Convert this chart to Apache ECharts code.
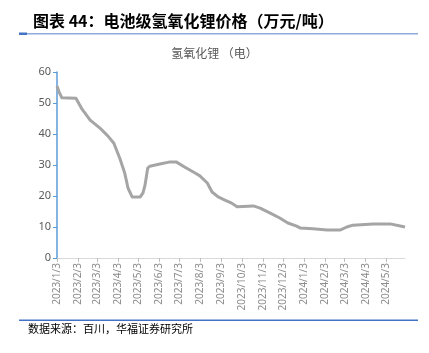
<!DOCTYPE html>
<html>
<head>
<meta charset="utf-8">
<script src="https://cdn.jsdelivr.net/npm/echarts@6/dist/echarts.min.js"></script>
<style>
  html, body { margin: 0; padding: 0; background: #fff; }
  #main { width: 429px; height: 353px; }
</style>
</head>
<body>
<div id="main"></div>
<script>
// 日期与价格（万元/吨）
const dates = [
  '2023-01-03', '2023-01-06', '2023-01-10', '2023-01-31', '2023-02-09', '2023-02-21',
  '2023-03-07', '2023-03-19', '2023-03-28', '2023-04-06', '2023-04-13', '2023-04-18',
  '2023-04-24', '2023-05-06', '2023-05-10', '2023-05-13', '2023-05-17', '2023-05-20', '2023-06-04',
  '2023-06-19', '2023-06-28', '2023-07-11', '2023-07-26', '2023-08-02', '2023-08-13',
  '2023-08-20', '2023-08-29', '2023-09-08', '2023-09-18', '2023-09-26', '2023-10-20',
  '2023-10-30', '2023-11-14', '2023-11-28', '2023-12-10', '2023-12-23', '2023-12-28',
  '2024-01-16', '2024-02-06', '2024-02-25', '2024-03-06', '2024-03-15', '2024-04-14',
  '2024-05-09', '2024-05-24', '2024-05-31'
];
const prices = [
  55.5, 53.6, 51.7, 51.5, 48, 44.5,
  42, 39.4, 37, 32, 27.4, 22.5,
  19.7, 19.7, 21, 23.5, 29, 29.6, 30.3,
  31, 31, 29.3, 27.4, 26.5, 24.2,
  21.3, 19.7, 18.7, 17.7, 16.5, 16.8,
  16.1, 14.5, 12.9, 11.3, 10.3, 9.7,
  9.4, 9.0, 9.0, 10, 10.6, 11,
  11, 10.3, 10
];
// 横轴刻度（每月3日）
const tickDates = [
  '2023/1/3', '2023/2/3', '2023/3/3', '2023/4/3', '2023/5/3', '2023/6/3',
  '2023/7/3', '2023/8/3', '2023/9/3', '2023/10/3', '2023/11/3', '2023/12/3',
  '2024/1/3', '2024/2/3', '2024/3/3', '2024/4/3', '2024/5/3'
];

// 以 2023/1/3 为起点的天数
const DAY = 24 * 3600 * 1000;
function toDay(s) {
  const p = s.split(/[-\/]/).map(Number);
  return Math.round((Date.UTC(p[0], p[1] - 1, p[2]) - Date.UTC(2023, 0, 3)) / DAY);
}
const tickValues = tickDates.map(toDay);
const seriesData = dates.map((d, i) => [toDay(d), prices[i]]);

const chart = echarts.init(document.getElementById('main'), null, { renderer: 'canvas' });

chart.setOption({
  animation: false,
  title: [
    {
      text: '图表 44：电池级氢氧化锂价格（万元/吨）',
      left: 28, top: 8,
      textStyle: { fontSize: 16, fontWeight: 'bold', color: '#000', fontFamily: 'Noto Sans CJK SC' }
    },
    {
      text: '氢氧化锂 （电）',
      left: 'center', top: 42,
      textStyle: { fontSize: 12, fontWeight: 'normal', color: '#595959', fontFamily: 'Noto Sans CJK SC' }
    }
  ],
  graphic: [
    { type: 'rect', shape: { x: 19, y: 33, width: 399, height: 1.5 }, style: { fill: '#8faadc' } },
    { type: 'rect', shape: { x: 19, y: 32.5, width: 8, height: 2.5 }, style: { fill: '#4472c4' } },
    { type: 'rect', shape: { x: 19, y: 319.5, width: 399, height: 1.5 }, style: { fill: '#4472c4' } },
    {
      type: 'text', left: 28, top: 323,
      style: { text: '数据来源：百川，华福证券研究所', fontSize: 11, fill: '#000', fontFamily: 'Noto Sans CJK SC' }
    }
  ],
  grid: { left: 57, right: 24, top: 72, bottom: 95 },
  xAxis: {
    type: 'value',
    min: 0,
    max: toDay('2024-05-31'),
    axisLine: { lineStyle: { color: '#d9d9d9' } },
    axisTick: { show: true, customValues: tickValues, length: 4, lineStyle: { color: '#bfbfbf' } },
    axisLabel: {
      customValues: tickValues,
      rotate: 90,
      fontSize: 10,
      color: '#8c8c8c',
      margin: 5,
      fontFamily: 'Noto Sans',
      formatter: function (v) {
        return tickDates[tickValues.indexOf(v)] || '';
      }
    },
    splitLine: { show: false }
  },
  yAxis: {
    type: 'value',
    min: 0, max: 60, interval: 10,
    axisLine: { show: true, lineStyle: { color: '#5b9bd5', width: 1.5 } },
    axisTick: { show: true, length: 4, lineStyle: { color: '#5b9bd5' } },
    axisLabel: { fontSize: 11, color: '#595959', margin: 6, fontFamily: 'Noto Sans' },
    splitLine: { show: false }
  },
  series: [
    {
      type: 'line',
      data: seriesData,
      showSymbol: false,
      smooth: false,
      lineStyle: { color: '#a5a5a5', width: 3, join: 'round' },
      itemStyle: { color: '#a5a5a5' }
    }
  ]
});
</script>
</body>
</html>
